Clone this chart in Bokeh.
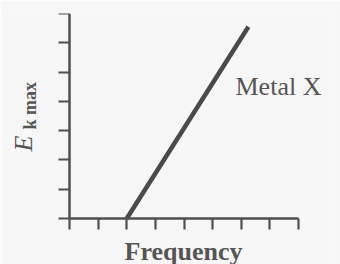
import math
from bokeh.plotting import figure
from bokeh.models import Range1d, FixedTicker, Label, LinearAxis
from bokeh.embed import file_html
from bokeh.resources import INLINE

# ---- data ----
x_ticks = [0, 1, 2, 3, 4, 5, 6, 7, 8]
y_ticks = [0, 1, 2, 3, 4, 5, 6, 7]
freq = [2.0, 6.25]        # threshold frequency -> upper end
ek_max = [0.0, 6.55]
series_name = "Metal X"
x_title = "Frequency"
y_title_main = "E"
y_title_sub = "k max"

bg = "#f7f7f7"
ink = "#4f4f4f"
txt = "#555555"

# scale: 28.625 px per x unit, 29.2857 px per y unit
p = figure(width=340, height=264, output_backend="svg", toolbar_location=None,
           x_axis_location=None, y_axis_location=None,
           x_range=Range1d(-69 / 28.625, (330 - 69) / 28.625),
           y_range=Range1d(-(264 - 218) / 29.2857, 7),
           min_border_left=0, min_border_right=10, min_border_top=13, min_border_bottom=0,
           background_fill_color=bg, border_fill_color=bg)
p.outline_line_color = None
p.grid.grid_line_color = None

xaxis = LinearAxis(fixed_location=0, bounds=(0, 8))
yaxis = LinearAxis(fixed_location=0, bounds=(0, 7))
for ax, ticks in ((xaxis, x_ticks), (yaxis, y_ticks)):
    ax.ticker = FixedTicker(ticks=ticks)
    ax.axis_line_color = ink
    ax.axis_line_width = 2.5
    ax.major_tick_line_color = ink
    ax.major_tick_line_width = 2.2
    ax.major_tick_in = 11
    ax.major_tick_out = 0
    ax.minor_tick_line_color = None
    ax.major_label_standoff = 0
    ax.major_label_overrides = {t: "" for t in ticks}
p.add_layout(xaxis, "above")
p.add_layout(yaxis, "right")

p.line(freq, ek_max, line_color="#4a4a4a", line_width=4.5, line_cap="butt")

p.add_layout(Label(x=(235 - 69) / 28.625, y=(218 - 86) / 29.2857, text=series_name,
                   text_font="Liberation Serif", text_font_size="26px", text_color=txt,
                   text_align="left", text_baseline="alphabetic"))
p.add_layout(Label(x=(183 - 69) / 28.625, y=(218 - 251) / 29.2857, text=x_title,
                   text_font="Liberation Serif", text_font_size="26px",
                   text_font_style="bold", text_color=txt,
                   text_align="center", text_baseline="alphabetic"))
p.add_layout(Label(x=(23 - 69) / 28.625, y=(218 - 151) / 29.2857, text=y_title_main,
                   text_font="Liberation Serif", text_font_size="26px",
                   text_font_style="italic", text_color=txt,
                   text_align="left", text_baseline="alphabetic", angle=math.pi / 2))
p.add_layout(Label(x=(29 - 69) / 28.625, y=(218 - 129) / 29.2857, text=y_title_sub,
                   text_font="Liberation Serif", text_font_size="18px",
                   text_font_style="bold", text_color=txt,
                   text_align="left", text_baseline="alphabetic", angle=math.pi / 2))

open("out.html", "w").write(file_html(p, INLINE))
